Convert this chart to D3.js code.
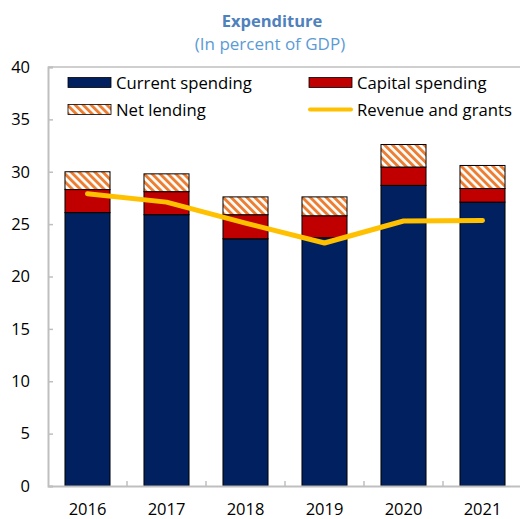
<!DOCTYPE html>
<html><head><meta charset="utf-8">
<script src="https://cdn.jsdelivr.net/npm/d3@7"></script>
<style>
html,body{margin:0;padding:0;background:#fff;}
svg{display:block;font-family:"Open Sans","Noto Sans",sans-serif;}
</style></head>
<body>
<svg id="chart" width="520" height="519"></svg>
<script>
const years = ["2016","2017","2018","2019","2020","2021"];
const currentSpending = [26.1, 25.9, 23.6, 23.7, 28.7, 27.1];
const capitalSpending = [2.2, 2.2, 2.3, 2.1, 1.75, 1.3];
const netLending = [1.7, 1.7, 1.7, 1.8, 2.15, 2.2];
const revenueGrants = [27.9, 27.1, 25.1, 23.2, 25.3, 25.35];
const yTicks = [0,5,10,15,20,25,30,35,40];

(function(){
const svg = d3.select("#chart");
const pL = 48, pR = 522, pT = 67, pB = 486;
const tickFont = 16.5;

const x = d3.scaleBand().domain(years).range([pL, pR]).paddingInner(0.43).paddingOuter(0.215);
const y = d3.scaleLinear().domain([0, 40]).range([pB, pT]);

const defs = svg.append("defs");
const pat = defs.append("pattern").attr("id","stripes").attr("patternUnits","userSpaceOnUse")
  .attr("width",5.6).attr("height",5.6).attr("patternTransform","rotate(-45)");
pat.append("rect").attr("width",5.6).attr("height",5.6).attr("fill","#fff");
pat.append("rect").attr("width",2.9).attr("height",5.6).attr("fill","#ED7D31");

svg.append("text").attr("x",272).attr("y",27).attr("text-anchor","middle")
  .attr("font-size",16.5).attr("font-weight","bold").attr("fill","#4F81BD").text("Expenditure");
svg.append("text").attr("x",270).attr("y",49.5).attr("text-anchor","middle")
  .attr("font-size",17).attr("fill","#5B9BD5").text("(In percent of GDP)");

const axisCol = "#BFBFBF";
svg.append("line").attr("x1",pL).attr("x2",520).attr("y1",pT).attr("y2",pT).attr("stroke",axisCol).attr("stroke-width",1.5);

const data = years.map((yr,i)=>({yr, segs:[
  {v0:0, v1:currentSpending[i], fill:"#002060"},
  {v0:currentSpending[i], v1:currentSpending[i]+capitalSpending[i], fill:"#C00000"},
  {v0:currentSpending[i]+capitalSpending[i], v1:currentSpending[i]+capitalSpending[i]+netLending[i], fill:"url(#stripes)"}
]}));

const g = svg.append("g");
data.forEach(d=>{
  g.selectAll(null).data(d.segs).enter().append("rect")
    .attr("x", x(d.yr)).attr("width", x.bandwidth())
    .attr("y", s=>y(s.v1)).attr("height", s=>y(s.v0)-y(s.v1))
    .attr("fill", s=>s.fill).attr("stroke","#000").attr("stroke-width",1);
});

const yAxis = d3.axisLeft(y).tickValues(yTicks).tickSize(-5).tickPadding(18);
const ya = svg.append("g").attr("transform",`translate(${pL},0)`).call(yAxis);
ya.select(".domain").attr("stroke",axisCol).attr("stroke-width",2);
ya.selectAll(".tick line").attr("stroke",axisCol).attr("stroke-width",1.5);
ya.selectAll(".tick text").attr("font-size",tickFont).attr("fill","#000").attr("font-family","Open Sans, Noto Sans, sans-serif");

const xa = svg.append("g").attr("transform",`translate(0,${pB})`)
  .call(d3.axisBottom(x).tickSize(0).tickPadding(17));
xa.select(".domain").attr("stroke",axisCol).attr("stroke-width",2);
xa.selectAll(".tick text").attr("font-size",tickFont).attr("fill","#000").attr("font-family","Open Sans, Noto Sans, sans-serif");
const bounds = years.slice(1).map(yr => x(yr) - x.step()*x.paddingInner()/2);
svg.append("g").selectAll("line").data(bounds).enter().append("line")
  .attr("x1",d=>d).attr("x2",d=>d).attr("y1",pB).attr("y2",pB-5)
  .attr("stroke",axisCol).attr("stroke-width",1.5);

const line = d3.line().x((d,i)=>x(years[i])+x.bandwidth()/2).y(d=>y(d));
svg.append("path").datum(revenueGrants).attr("d",line).attr("fill","none")
  .attr("stroke","#FFC000").attr("stroke-width",5).attr("stroke-linecap","round").attr("stroke-linejoin","round");

const legend = [
  {label:"Current spending", type:"rect", fill:"#002060", x:68, y:82.5},
  {label:"Capital spending", type:"rect", fill:"#C00000", x:309, y:82.5},
  {label:"Net lending", type:"rect", fill:"url(#stripes)", x:68, y:109.5},
  {label:"Revenue and grants", type:"line", fill:"#FFC000", x:309, y:109.5}
];
const lg = svg.append("g");
legend.forEach(l=>{
  if(l.type==="rect"){
    lg.append("rect").attr("x",l.x).attr("y",l.y-5).attr("width",43).attr("height",10)
      .attr("fill",l.fill).attr("stroke","#000").attr("stroke-width",0.8);
  } else {
    lg.append("line").attr("x1",l.x+1).attr("x2",l.x+42).attr("y1",l.y).attr("y2",l.y)
      .attr("stroke",l.fill).attr("stroke-width",4).attr("stroke-linecap","round");
  }
  lg.append("text").attr("x",l.x+48).attr("y",l.y+6).attr("font-size",16.7).attr("fill","#000").text(l.label);
});
})();
</script>
</body></html>
